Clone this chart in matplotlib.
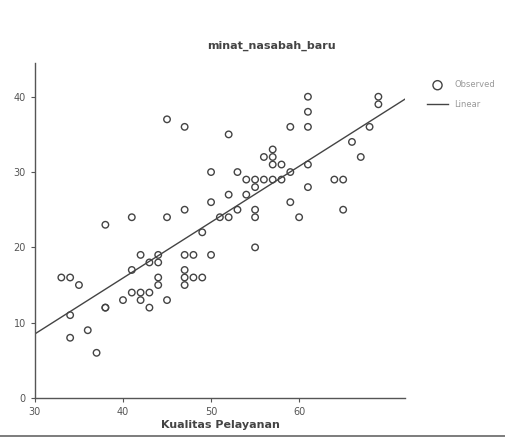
import numpy as np
import matplotlib
matplotlib.use("Agg")
import matplotlib.pyplot as plt
from matplotlib.lines import Line2D

# Observed data (Kualitas Pelayanan vs minat)
kualitas = [45, 47, 52, 57, 59, 61, 61, 61, 69, 69, 68, 66, 57, 56, 57, 58, 67, 61, 59,
            50, 53, 54, 55, 56, 57, 58, 55, 61, 64, 65, 52, 54, 50, 59, 53, 47, 41, 45,
            38, 51, 52, 55, 55, 60, 65, 49, 55, 42, 44, 47, 48, 50, 43, 44, 41, 33, 34,
            35, 44, 44, 47, 47, 48, 49, 47, 41, 42, 43, 42, 40, 45, 38, 34, 38, 43, 34,
            36, 37]
minat = [37, 36, 35, 33, 36, 40, 38, 36, 40, 39, 36, 34, 32, 32, 31, 31, 32, 31, 30,
         30, 30, 29, 29, 29, 29, 29, 28, 28, 29, 29, 27, 27, 26, 26, 25, 25, 24, 24,
         23, 24, 24, 25, 24, 24, 25, 22, 20, 19, 19, 19, 19, 19, 18, 18, 17, 16, 16,
         15, 16, 15, 17, 16, 16, 16, 15, 14, 14, 14, 13, 13, 13, 12, 11, 12, 12, 8,
         9, 6]

x_ticks = [30, 40, 50, 60]
y_ticks = [0, 10, 20, 30, 40]
title = "minat_nasabah_baru"
x_label = "Kualitas Pelayanan"

x = np.array(kualitas, dtype=float)
y = np.array(minat, dtype=float)
slope, intercept = np.polyfit(x, y, 1)

fig = plt.figure(figsize=(5.06, 4.41), dpi=100)
ax = fig.add_axes([0.069, 0.0975, 0.731, 0.76])

ink = "#555555"
ax.scatter(x, y, s=22, facecolors="none", edgecolors="#444444", linewidths=1.0,
           label="Observed", zorder=3)
xl = np.array([30, 72])
ax.plot(xl, intercept + slope * xl, color="#444444", lw=1.0, label="Linear", zorder=2)

ax.set_xlim(30, 72)
ax.set_ylim(0, 44.5)
ax.set_xticks(x_ticks)
ax.set_yticks(y_ticks)
ax.tick_params(colors=ink, labelsize=7, length=3, width=0.8)
for s in ["top", "right"]:
    ax.spines[s].set_visible(False)
for s in ["left", "bottom"]:
    ax.spines[s].set_color(ink)
    ax.spines[s].set_linewidth(1.0)

fig.text(0.536, 0.896, title, ha="center", va="center", fontsize=8,
         fontweight="bold", color="#444444")
fig.text(0.435, 0.036, x_label, ha="center", va="center", fontsize=8,
         fontweight="bold", color="#444444")

leg = ax.legend(loc="upper left", bbox_to_anchor=(1.04, 0.97), frameon=False,
                fontsize=6, labelcolor="#999999", handlelength=2.5,
                labelspacing=1.3, markerscale=1.4)

fig.add_artist(Line2D([0.0, 1.0], [0.012, 0.012], color="#666666", lw=1.2,
                      transform=fig.transFigure))

fig.savefig("out.png", dpi=100)
